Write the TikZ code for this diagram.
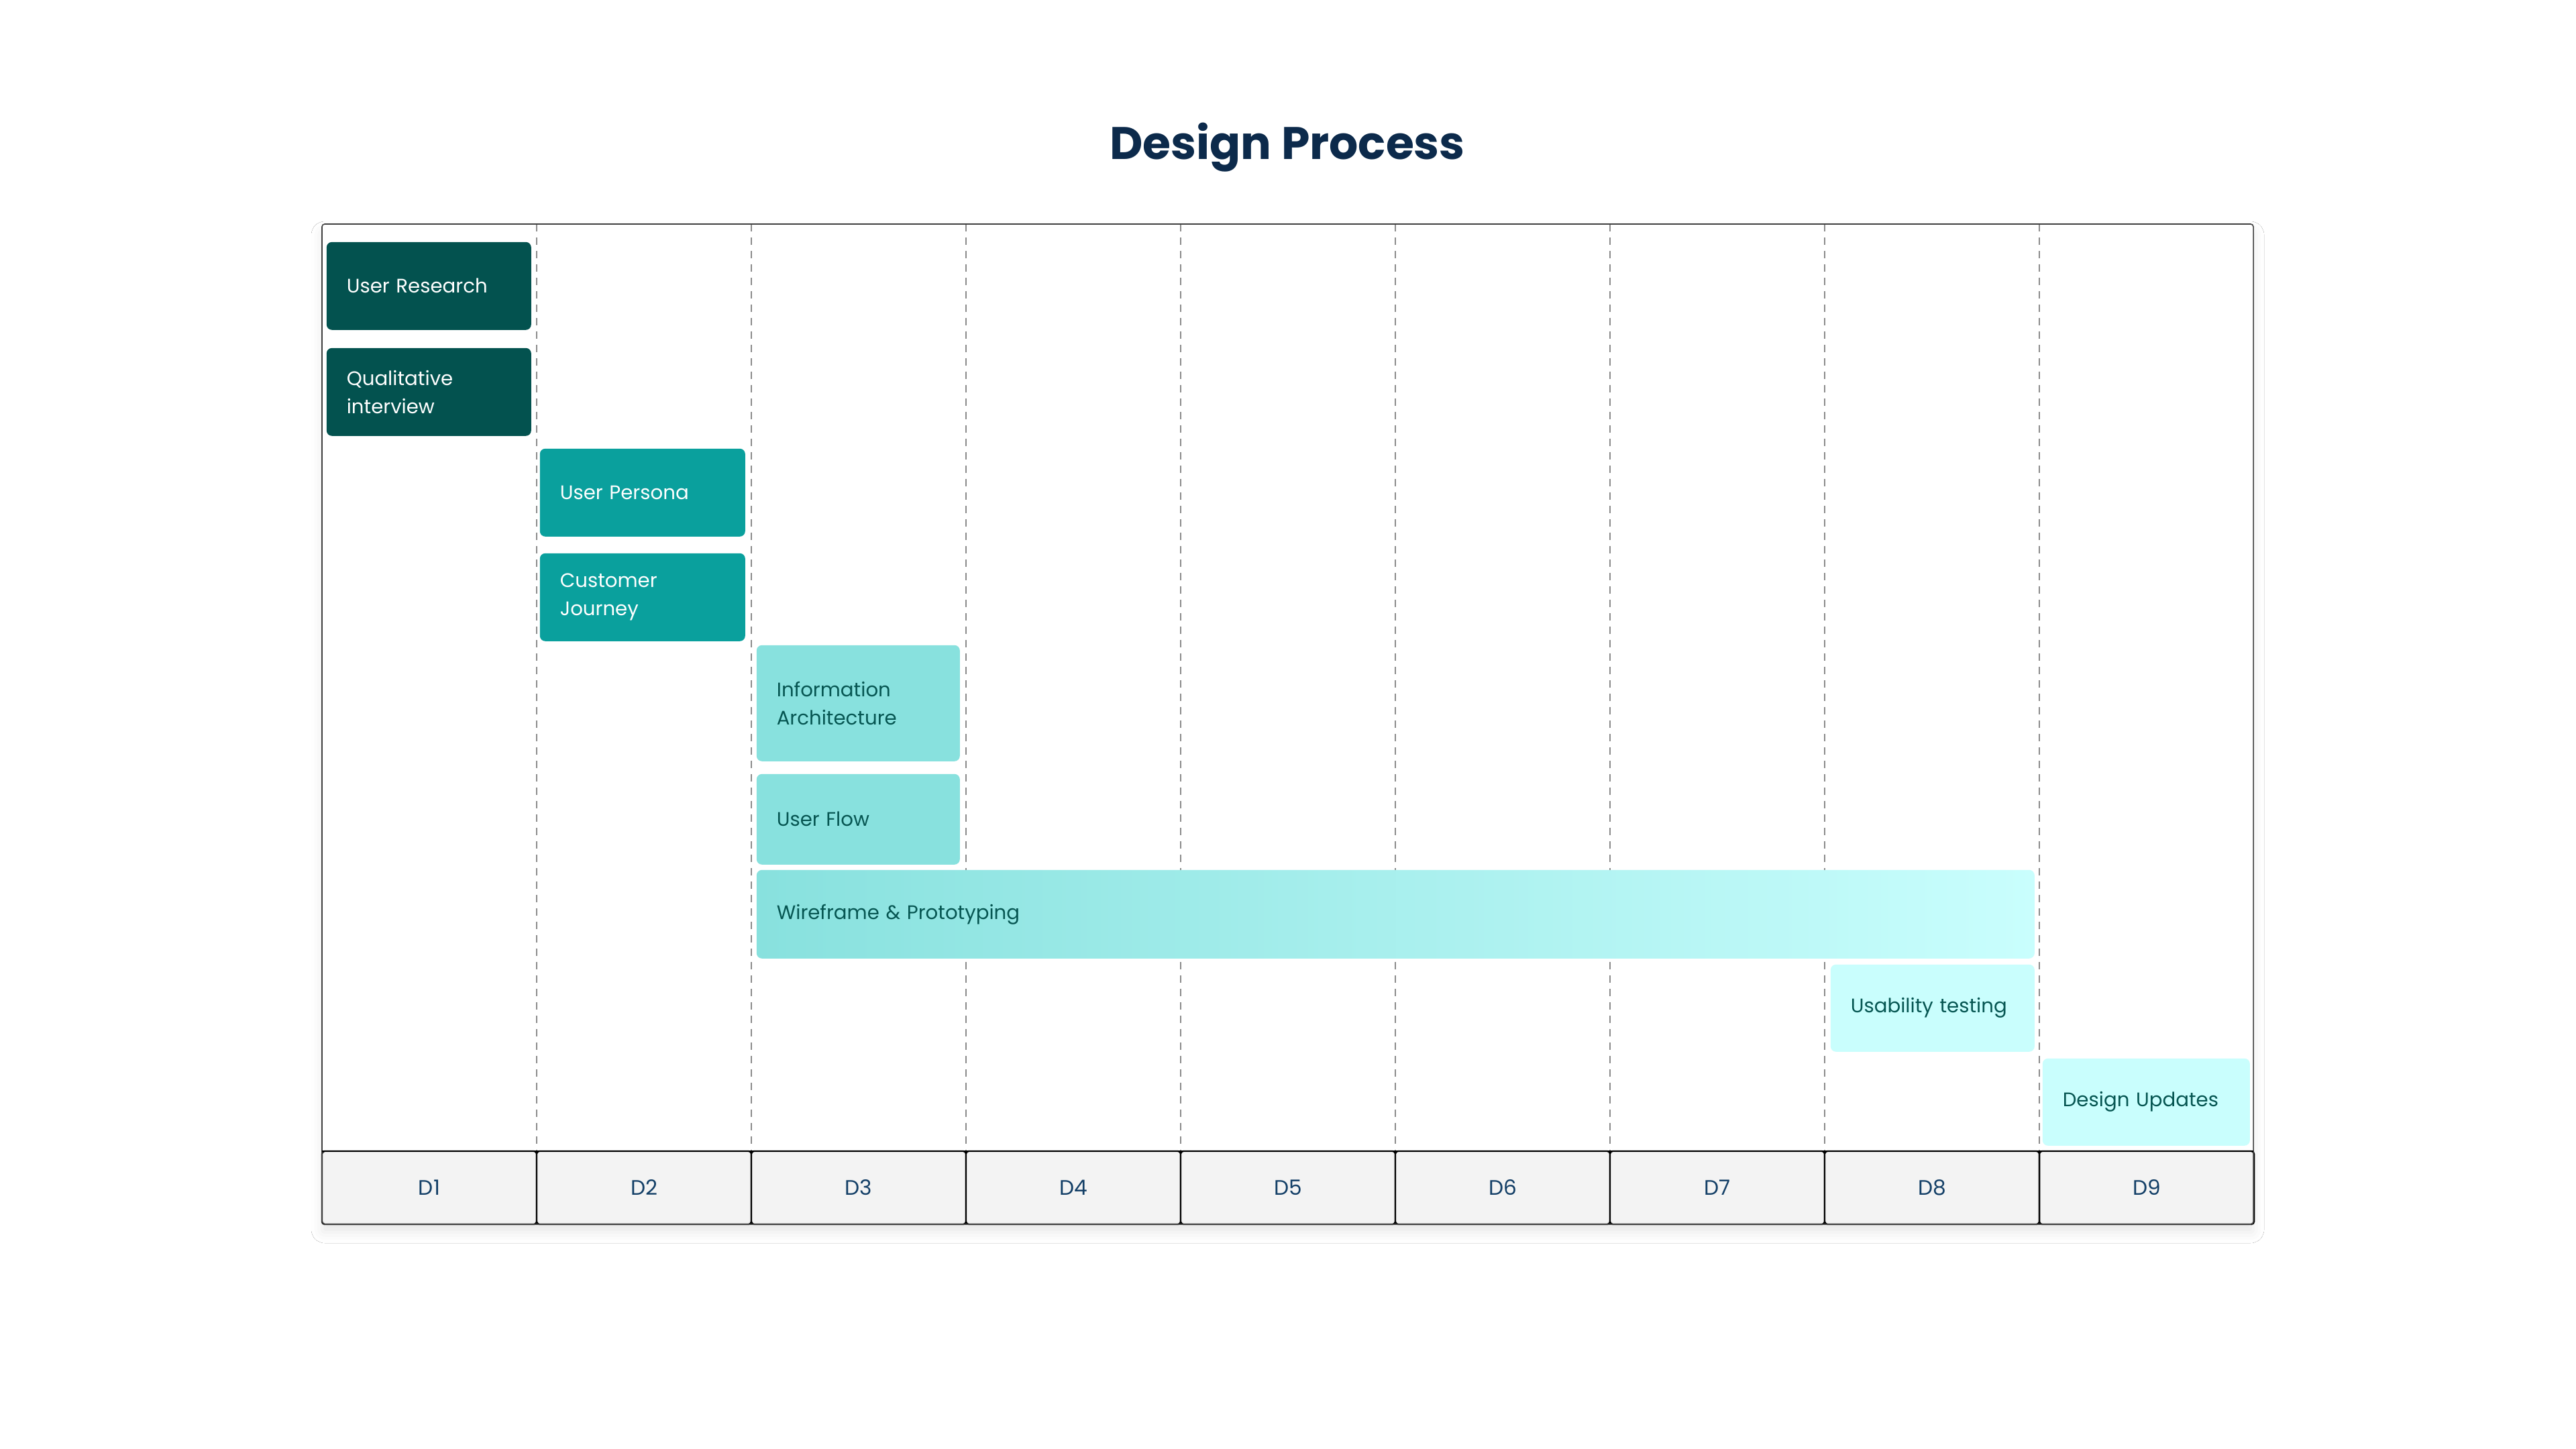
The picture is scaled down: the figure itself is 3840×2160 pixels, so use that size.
\documentclass[tikz,border=0pt]{standalone}
\usepackage{fontspec}
\setmainfont{Poppins}
\usetikzlibrary{shadows.blur}
\definecolor{darkteal}{HTML}{03524F}
\definecolor{midteal}{HTML}{0AA09D}
\definecolor{lightteal}{HTML}{88E1DE}
\definecolor{paleteal}{HTML}{C9FEFD}
\definecolor{tealtext}{HTML}{065652}
\definecolor{navy}{HTML}{0C2A4B}
\definecolor{daynavy}{HTML}{123E66}
\definecolor{cellgray}{HTML}{F3F3F3}
\definecolor{dashgray}{HTML}{8A8A8A}
\begin{document}
\begin{tikzpicture}[x=0.25pt,y=-0.25pt,
  titletext/.style={font=\fontsize{17}{21}\selectfont\bfseries, text=navy, inner sep=0pt},
  gridline/.style={draw=dashgray, line width=0.45pt, dash pattern=on 2.8pt off 2.2pt},
  daycell/.style={draw=black, line width=0.6pt, fill=cellgray, rounded corners=1pt,
    minimum width=80pt, minimum height=27.25pt, inner sep=0pt, text=daynavy,
    font=\fontsize{7.8}{9}\selectfont},
  task/.style={rounded corners=2pt, inner xsep=7.5pt, inner ysep=0pt, align=left,
    anchor=north west, font=\fontsize{7.3}{10.5}\selectfont},
  taskdark/.style={task, fill=darkteal, text=white},
  taskmid/.style={task, fill=midteal, text=white},
  tasklight/.style={task, fill=lightteal, text=tealtext},
  taskpale/.style={task, fill=paleteal, text=tealtext}
]
\useasboundingbox (0,0) rectangle (3840,2160);
\fill[white] (0,0) rectangle (3840,2160);

\node[titletext, anchor=base] (title) at (1919,238) {Design Process};

% frame background with shadow
\fill[white, rounded corners=1pt,
  blur shadow={shadow xshift=0pt, shadow yshift=-3pt, shadow blur radius=4pt, shadow opacity=9}]
  (480,334) rectangle (3359,1825);

% dashed day separators
\foreach \i in {1,...,8}
  \draw[gridline] ({480+320*\i},334) -- ({480+320*\i},1716);

% day cells
\foreach \i in {1,...,9}
  \node[daycell] (d\i) at ({320+320*\i},1770.5) {D\i};

% tasks
\node[taskdark, text width=61.25pt, minimum height=32.75pt] (ur) at (486,360) {User Research};
\node[taskdark, text width=61.25pt, minimum height=32.75pt] (qi) at (486,518) {Qualitative\\interview};
\node[taskmid, text width=61.5pt, minimum height=32.75pt] (up) at (804,668) {User Persona};
\node[taskmid, text width=61.5pt, minimum height=32.75pt] (cj) at (804,824) {Customer\\Journey};
\node[tasklight, text width=60.75pt, minimum height=43.25pt] (ia) at (1127,961) {Information\\Architecture};
\node[tasklight, text width=60.75pt, minimum height=33.75pt] (uf) at (1127,1153) {User Flow};
\node[task, left color=lightteal, right color=paleteal, text=tealtext,
  text width=461.25pt, minimum height=33pt] (wp) at (1127,1296) {Wireframe \& Prototyping};
\node[taskpale, text width=61pt, minimum height=32.5pt] (ut) at (2728,1437) {Usability testing};
\node[taskpale, text width=62.25pt, minimum height=32.5pt] (du) at (3044,1577) {Design Updates};

% frame outline
\draw[black!75, line width=0.4pt, rounded corners=1pt] (480,334) rectangle (3359,1825);
\draw[black, line width=0.7pt] (480,1716) -- (3359,1716);
\end{tikzpicture}
\end{document}
